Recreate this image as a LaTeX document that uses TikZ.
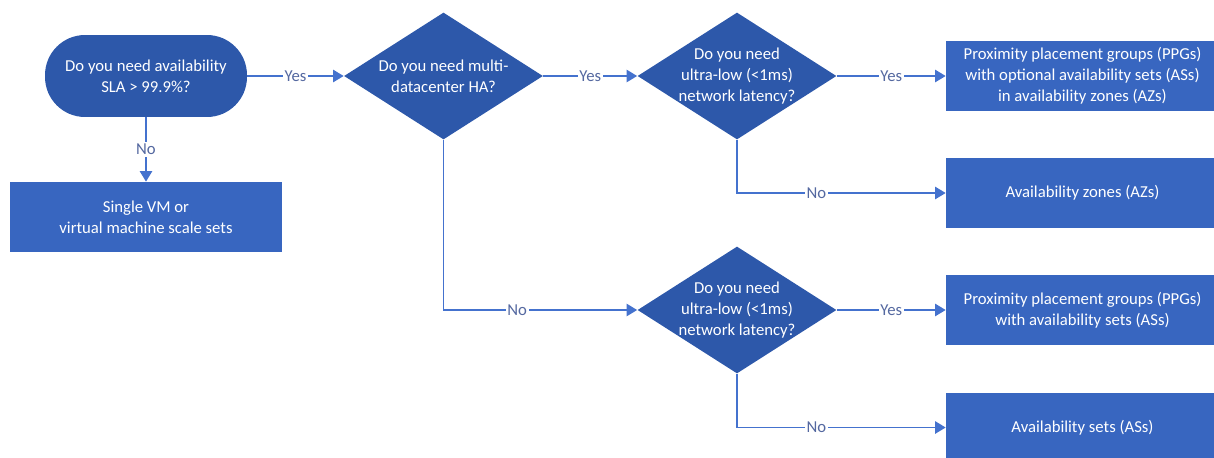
\documentclass[tikz,border=0pt]{standalone}
\usepackage{fontspec}
\setmainfont{Carlito}
\usetikzlibrary{shapes.geometric,arrows.meta}

\definecolor{askblue}{RGB}{45,88,170}
\definecolor{endblue}{RGB}{56,102,192}
\definecolor{wireblue}{RGB}{68,114,206}
\definecolor{tagblue}{RGB}{84,104,160}

\begin{document}
\begin{tikzpicture}
    [
        x=0.02cm, y=-0.02cm,
        every node/.style={font=\fontsize{9.5}{12}\selectfont},
        start node/.style={rectangle, rounded corners=0.8cm, fill=askblue, text=white, minimum width=4.04cm, minimum height=1.64cm, align=center},
        ask node/.style={diamond, shape aspect=1.567, inner sep=-2pt, fill=askblue, text=white, minimum width=3.98cm, minimum height=2.54cm, align=center},
        end node/.style={rectangle, fill=endblue, text=white, minimum width=5.46cm, minimum height=1.4cm, align=center},
        wire/.style={draw=wireblue, line width=0.9pt, -{Triangle[length=6pt,width=7pt]}},
        tag/.style={fill=white, text=tagblue, inner sep=1pt}
    ]

    \useasboundingbox (0, 0) rectangle (1214, 457);

    \node [start node] (sla) at (146, 76) {Do you need availability\\SLA > 99.9\%?};
    \node [end node] (single) at (146, 217) {Single VM or\\virtual machine scale sets};
    \node [ask node] (multi) at (443.5, 76) {Do you need multi-\\datacenter HA?};
    \node [ask node] (lowA) at (737, 76) {Do you need\\ultra-low (<1ms)\\network latency?};
    \node [ask node] (lowB) at (737, 310) {Do you need\\ultra-low (<1ms)\\network latency?};

    \node [end node] (ppgaz) at (1082.5, 76) {Proximity placement groups (PPGs)\\with optional availability sets (ASs)\\in availability zones (AZs)};
    \node [end node] (az) at (1082.5, 193) {Availability zones (AZs)};
    \node [end node] (ppgas) at (1082.5, 310) {Proximity placement groups (PPGs)\\with availability sets (ASs)};
    \node [end node] (as) at (1082.5, 427.5) {Availability sets (ASs)};

    \draw [wire] (sla) -- node [tag] {Yes} (multi);
    \draw [wire] (sla) -- node [tag] {No} (single);
    \draw [wire] (multi) -- node [tag] {Yes} (lowA);
    \draw [wire] (lowA) -- node [tag] {Yes} (ppgaz);
    \draw [wire] (lowA.south) |- node [tag, pos=0.69] {No} (az.west);
    \draw [wire] (multi.south) |- node [tag, pos=0.69] {No} (lowB.west);
    \draw [wire] (lowB) -- node [tag] {Yes} (ppgas);
    \draw [wire] (lowB.south) |- node [tag, pos=0.69] {No} (as.west);
    \end{tikzpicture}
\end{document}
